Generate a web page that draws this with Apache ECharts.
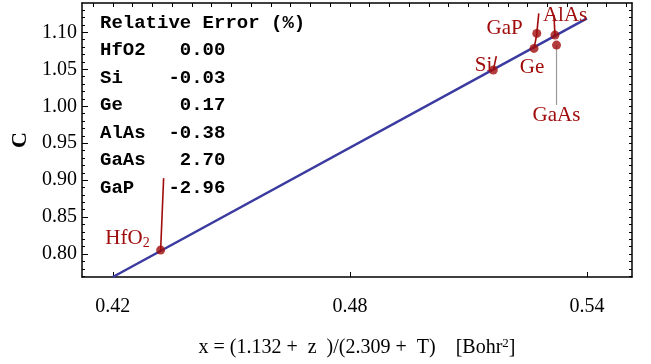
<!DOCTYPE html>
<html>
<head>
<meta charset="utf-8">
<script src="https://cdn.jsdelivr.net/npm/echarts@6/dist/echarts.min.js"></script>
<style>
  html, body { margin: 0; padding: 0; background: #fff; }
  #main { width: 651px; height: 364px; }
</style>
</head>
<body>
<div id="main"></div>
<script>
// materials, in table order
const materials = ['HfO2', 'Si', 'Ge', 'AlAs', 'GaAs', 'GaP'];
const relErrors = [0.00, -0.03, 0.17, -0.38, 2.70, -2.96];
// measured points (x, C)
const pointX = [0.4321, 0.5163, 0.5266, 0.5319, 0.5323, 0.5273];
const pointC = [0.8054, 1.0489, 1.0783, 1.0963, 1.0828, 1.0986];
// fitted line
const fitX = [0.42, 0.54];
const fitC = [0.769, 1.119];
// tick labels
const xTicks = [0.42, 0.48, 0.54];
const yTicks = [0.80, 0.85, 0.90, 0.95, 1.00, 1.05, 1.10];

const X_MIN = 0.4122, X_MAX = 0.5514;
const Y_MIN = 0.769, Y_MAX = 1.1397;

const RED = '#a00c0c';
const SERIF = '"Liberation Serif", "DejaVu Serif", serif';

// callout layout, pixel offsets from each point: leader end, text anchor
const callouts = {
  HfO2: { l: [3, -72], t: [-11, -12], align: 'right', text: 'HfO{s|2}' },
  Si:   { l: [3, -14], t: [-1, -5], align: 'right', text: 'Si' },
  Ge:   { l: [3, -15], t: [-2, 19], align: 'center', text: 'Ge' },
  AlAs: { l: [-1, -20], t: [-12, -20], align: 'left', text: 'AlAs' },
  GaAs: { l: [0, 60], t: [0, 70], align: 'center', text: 'GaAs', gray: true },
  GaP:  { l: [2, -20], t: [-14, -5], align: 'right', text: 'GaP' },
};

const range = (a, b, step) => {
  const out = [];
  for (let v = a; v <= b + 1e-9; v += step) out.push(+v.toFixed(4));
  return out;
};
const yMinor = range(0.77, 1.13, 0.01);
const xTopTicks = range(0.415, 0.55, 0.005);

const tableText = ['Relative Error (%)']
  .concat(materials.map((m, i) => m.padEnd(6) + relErrors[i].toFixed(2).padStart(5)))
  .join('\n');

const chart = echarts.init(document.getElementById('main'));

const frame = { show: true, lineStyle: { color: '#000', width: 1.5 } };

chart.setOption({
  animation: false,
  grid: { left: 82, right: 19, top: 3, bottom: 87 },
  xAxis: [
    {
      type: 'value', min: X_MIN, max: X_MAX, position: 'bottom',
      axisLine: frame,
      splitLine: { show: false },
      axisTick: { inside: true, length: 5, customValues: xTicks, lineStyle: { color: '#000' } },
      axisLabel: {
        customValues: xTicks, margin: 20, color: '#000',
        fontFamily: SERIF, fontSize: 20,
        formatter: (v) => v.toFixed(2),
      },
      name: 'x = (1.132 +  z  )/(2.309 +  T)    [Bohr{sup|2}]',
      nameLocation: 'middle', nameGap: 60,
      nameTextStyle: {
        fontFamily: SERIF, fontSize: 20, color: '#000',
        rich: { sup: { fontFamily: SERIF, fontSize: 13, color: '#000', padding: [0, 0, 9, 0] } },
      },
    },
    {
      type: 'value', min: X_MIN, max: X_MAX, position: 'top',
      axisLine: frame,
      splitLine: { show: false },
      axisTick: { inside: true, length: 4, customValues: xTopTicks, lineStyle: { color: '#000' } },
      axisLabel: { show: false },
    },
  ],
  yAxis: [
    {
      type: 'value', min: Y_MIN, max: Y_MAX, position: 'left',
      axisLine: frame,
      splitLine: { show: false },
      axisTick: { inside: true, length: 6, customValues: yTicks, lineStyle: { color: '#000' } },
      axisLabel: {
        customValues: yTicks, margin: 5, color: '#000',
        fontFamily: SERIF, fontSize: 20,
        formatter: (v) => v.toFixed(2),
      },
      name: 'C', nameLocation: 'middle', nameGap: 50,
      nameTextStyle: { fontFamily: SERIF, fontSize: 22, fontWeight: 'bold', color: '#000' },
    },
    {
      type: 'value', min: Y_MIN, max: Y_MAX, position: 'left',
      axisLine: { show: false },
      splitLine: { show: false },
      axisTick: { inside: true, length: 3, customValues: yMinor, lineStyle: { color: '#000' } },
      axisLabel: { show: false },
    },
    {
      type: 'value', min: Y_MIN, max: Y_MAX, position: 'right',
      axisLine: frame,
      splitLine: { show: false },
      axisTick: { inside: true, length: 3, customValues: yMinor, lineStyle: { color: '#000' } },
      axisLabel: { show: false },
    },
  ],
  graphic: [{
    type: 'text', left: 100, top: 9, z: 10,
    style: {
      text: tableText,
      font: 'bold 19px "Liberation Mono", "DejaVu Sans Mono", monospace',
      lineHeight: 27.5, fill: '#000',
    },
  }],
  series: [
    {
      type: 'line', xAxisIndex: 0, yAxisIndex: 0,
      data: fitX.map((x, i) => [x, fitC[i]]),
      showSymbol: false, symbol: 'none',
      lineStyle: { color: '#3a3aa0', width: 2.5 },
      z: 2,
    },
    {
      type: 'custom', xAxisIndex: 0, yAxisIndex: 0, z: 3,
      data: materials.map((m, i) => [pointX[i], pointC[i], i]),
      renderItem: (params, api) => {
        const p = api.coord([api.value(0), api.value(1)]);
        const c = callouts[materials[api.value(2)]];
        return {
          type: 'group',
          children: [
            {
              type: 'line',
              shape: { x1: p[0], y1: p[1], x2: p[0] + c.l[0], y2: p[1] + c.l[1] },
              style: { stroke: c.gray ? '#999' : RED, lineWidth: c.gray ? 1.2 : 1.6 },
            },
            {
              type: 'text',
              x: p[0] + c.t[0], y: p[1] + c.t[1],
              style: {
                text: c.text, fill: RED,
                font: '21px ' + SERIF,
                align: c.align, verticalAlign: 'middle',
                rich: { s: { fontSize: 14, fontFamily: SERIF, fill: RED, padding: [10, 0, 0, 0] } },
              },
            },
          ],
        };
      },
    },
    {
      type: 'scatter', xAxisIndex: 0, yAxisIndex: 0, z: 4,
      data: pointX.map((x, i) => [x, pointC[i]]),
      symbolSize: 9,
      itemStyle: { color: RED },
    },
  ],
});
</script>
</body>
</html>
